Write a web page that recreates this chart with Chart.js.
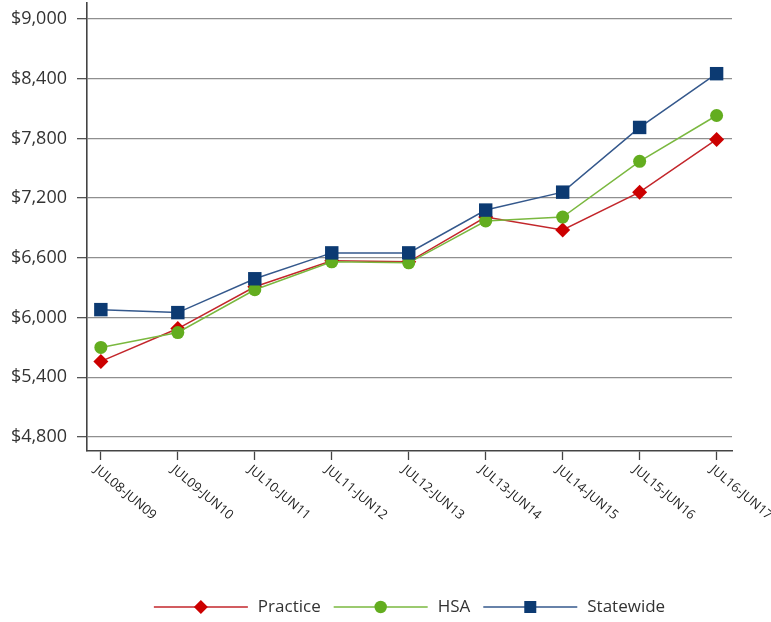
<!DOCTYPE html>
<html>
<head>
<meta charset="utf-8">
<script src="https://cdn.jsdelivr.net/npm/chart.js@4"></script>
<style>
  html, body { margin: 0; padding: 0; background: #ffffff; }
  #wrap { width: 771px; height: 622px; position: relative; }
</style>
</head>
<body>
<div id="wrap"><canvas id="c"></canvas></div>
<script>
// Fiscal periods (July to June)
const periods = ['JUL08-JUN09', 'JUL09-JUN10', 'JUL10-JUN11', 'JUL11-JUN12', 'JUL12-JUN13',
                 'JUL13-JUN14', 'JUL14-JUN15', 'JUL15-JUN16', 'JUL16-JUN17'];

// Cost per member, in dollars
const practice  = [5560, 5890, 6310, 6570, 6560, 7010, 6880, 7260, 7790];
const hsa       = [5700, 5850, 6280, 6560, 6550, 6970, 7010, 7570, 8030];
const statewide = [6080, 6050, 6390, 6650, 6650, 7080, 7260, 7910, 8450];

// Value axis ticks
const yTicks = [4800, 5400, 6000, 6600, 7200, 7800, 8400, 9000];

const FONT = "'Open Sans', 'DejaVu Sans', sans-serif";

const seriesStyle = [
  { label: 'Practice',  data: practice,  line: '#c3262b', fill: '#cc0000', shape: 'rectRot', radius: 7.5, order: 3 },
  { label: 'HSA',       data: hsa,       line: '#7ab83f', fill: '#63ad1f', shape: 'circle',  radius: 6.5, order: 2 },
  { label: 'Statewide', data: statewide, line: '#34588c', fill: '#0c3a72', shape: 'rect',    radius: 9.5, order: 1 }
];

const datasets = seriesStyle.map(s => ({
  label: s.label,
  data: s.data.map((v, i) => ({ x: i, y: v })),
  borderColor: s.line,
  borderWidth: 1.5,
  backgroundColor: s.fill,
  pointBackgroundColor: s.fill,
  pointBorderColor: s.fill,
  pointBorderWidth: 0,
  pointStyle: s.shape,
  pointRadius: s.radius,
  pointHoverRadius: s.radius,
  tension: 0,
  order: s.order
}));

// Rotated period labels under each category tick
const periodLabels = {
  id: 'periodLabels',
  afterDraw(chart) {
    const ctx = chart.ctx;
    const xs = chart.scales.x;
    ctx.save();
    ctx.font = "13px " + FONT;
    ctx.fillStyle = '#222222';
    ctx.textAlign = 'left';
    ctx.textBaseline = 'middle';
    periods.forEach((p, i) => {
      const x = xs.getPixelForValue(i);
      ctx.save();
      ctx.translate(x - 5, xs.top + 17);
      ctx.rotate(40 * Math.PI / 180);
      ctx.fillText(p, 0, 0);
      ctx.restore();
    });
    ctx.restore();
  }
};

// Legend: line with marker in the middle, then the series name
const lineLegend = {
  id: 'lineLegend',
  afterDraw(chart) {
    const ctx = chart.ctx;
    const area = chart.chartArea;
    const lineLen = 94, textGap = 10, itemGap = 13;
    const y = 607;
    ctx.save();
    ctx.font = "17px " + FONT;
    const widths = seriesStyle.map(s => ctx.measureText(s.label).width);
    const total = widths.reduce((a, w) => a + lineLen + textGap + w, 0) + itemGap * (seriesStyle.length - 1);
    let x = (area.left + area.right) / 2 - total / 2;
    seriesStyle.forEach((s, i) => {
      ctx.strokeStyle = s.line;
      ctx.lineWidth = 1.5;
      ctx.beginPath();
      ctx.moveTo(x, y);
      ctx.lineTo(x + lineLen, y);
      ctx.stroke();
      const cx = x + lineLen / 2;
      ctx.fillStyle = s.fill;
      ctx.beginPath();
      if (s.shape === 'rectRot') {
        const r = 7;
        ctx.moveTo(cx - r, y); ctx.lineTo(cx, y - r); ctx.lineTo(cx + r, y); ctx.lineTo(cx, y + r);
        ctx.closePath();
      } else if (s.shape === 'circle') {
        ctx.arc(cx, y, 6.2, 0, Math.PI * 2);
      } else {
        ctx.rect(cx - 6, y - 6, 12, 12);
      }
      ctx.fill();
      ctx.fillStyle = '#333333';
      ctx.textAlign = 'left';
      ctx.textBaseline = 'middle';
      ctx.fillText(s.label, x + lineLen + textGap, y);
      x += lineLen + textGap + widths[i] + itemGap;
    });
    ctx.restore();
  }
};

new Chart(document.getElementById('c'), {
  type: 'line',
  data: { datasets },
  options: {
    responsive: true,
    maintainAspectRatio: false,
    animation: false,
    layout: { autoPadding: false, padding: { top: 3, right: 39, left: 0, bottom: 0 } },
    plugins: {
      legend: { display: false },
      tooltip: { enabled: false }
    },
    scales: {
      x: {
        type: 'linear',
        min: -0.18,
        max: 8.2,
        afterBuildTicks: axis => { axis.ticks = periods.map((_, i) => ({ value: i })); },
        afterFit: axis => { axis.height = 622 - 451; axis.paddingLeft = 0; axis.paddingRight = 0; },
        ticks: { display: true, callback: () => '', padding: 0 },
        grid: { drawOnChartArea: false, drawTicks: true, tickLength: 9, tickColor: '#444444', tickWidth: 1.3 },
        border: { display: true, color: '#444444', width: 1.6 }
      },
      y: {
        min: 4660,
        max: 9160,
        afterBuildTicks: axis => { axis.ticks = yTicks.map(v => ({ value: v })); },
        afterFit: axis => { axis.width = 87; axis.paddingTop = 0; axis.paddingBottom = 0; },
        ticks: {
          padding: 10,
          color: '#333333',
          font: { family: FONT, size: 18 },
          callback: v => '$' + v.toLocaleString('en-US')
        },
        grid: { color: '#8f8f8f', lineWidth: 1.3, drawTicks: true, tickLength: 10, tickColor: '#555555', tickWidth: 1.3 },
        border: { display: true, color: '#444444', width: 1.6 }
      }
    }
  },
  plugins: [periodLabels, lineLegend]
});
</script>
</body>
</html>
